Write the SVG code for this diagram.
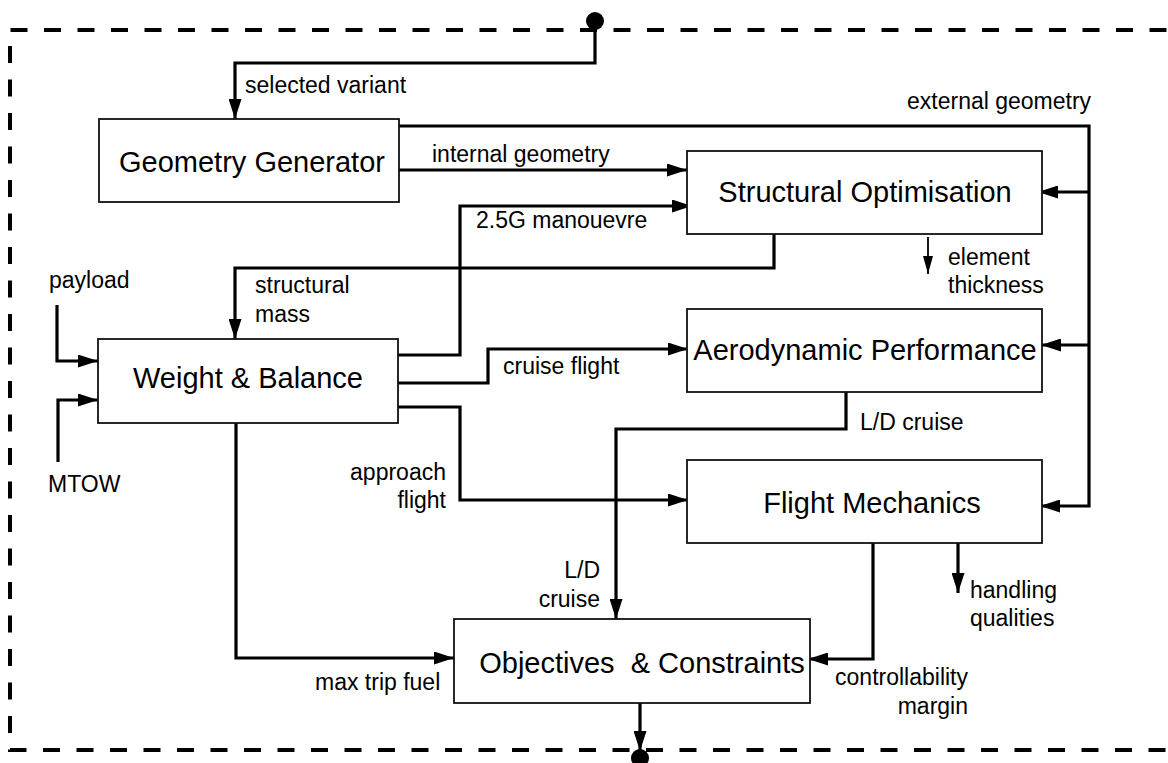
<svg xmlns="http://www.w3.org/2000/svg" width="1168" height="763" viewBox="0 0 1168 763">
<defs>
<style>
.box{fill:#fff;stroke:#111;stroke-width:1.8}
.nt{font-family:"Liberation Sans",Arial,sans-serif;font-size:29px;fill:#000}
.lb{font-family:"Liberation Sans",Arial,sans-serif;font-size:23px;fill:#000}
.c{fill:none;stroke:#000;stroke-width:3.2;stroke-linejoin:miter}
.ct{fill:none;stroke:#000;stroke-width:1.8}
.a{marker-end:url(#ah)}
.at{marker-end:url(#ahs)}
.border{fill:none;stroke:#000;stroke-width:4;stroke-dasharray:17 16.5}
</style>
<marker id="ah" markerUnits="userSpaceOnUse" markerWidth="20" markerHeight="13" refX="20" refY="6.5" orient="auto">
<path d="M0,0 L20,6.5 L0,13 z" fill="#000"/>
</marker>
<marker id="ahs" markerUnits="userSpaceOnUse" markerWidth="18" markerHeight="10" refX="18" refY="5" orient="auto">
<path d="M0,0 L18,5 L0,10 z" fill="#000"/>
</marker>
</defs>
<rect width="1168" height="763" fill="#fff"/>
<path class="border" d="M1200,30 H10 V750 H1200"/>

<g id="connectors">
<path class="c a" d="M595,21 V63 H235 V119"/>
<path class="c a" d="M397,126 H1089 V506 H1040"/>
<path class="c a" d="M1089,192 H1038"/>
<path class="c a" d="M1089,345 H1041"/>
<path class="c a" d="M399,170 H687"/>
<path class="c a" d="M398,355 H460 V206 H692"/>
<path class="c a" d="M774,234 V268 H235 V339"/>
<path class="ct at" d="M928,237 V274"/>
<path class="c a" d="M398,383 H488 V349 H688"/>
<path class="c a" d="M398,407 H460 V500 H688"/>
<path class="c a" d="M846,392 V429 H616 V619"/>
<path class="c a" d="M236,423 V658 H454"/>
<path class="c a" d="M873,543 V659 H808"/>
<path class="c a" d="M958,543 V593"/>
<path class="c a" d="M640,703 V751"/>
<path class="c a" d="M57,305 V361 H98"/>
<path class="c a" d="M58,462 V400 H98"/>
<circle cx="595" cy="21" r="9" fill="#000"/>
<circle cx="640" cy="758" r="9" fill="#000"/>
</g>

<g id="labels">
<text class="lb" x="245" y="93">selected variant</text>
<text class="lb" x="907" y="109">external geometry</text>
<text class="lb" x="432" y="162">internal geometry</text>
<text class="lb" x="476" y="228">2.5G manouevre</text>
<text class="lb" x="255" y="293">structural</text>
<text class="lb" x="255" y="322">mass</text>
<text class="lb" x="948" y="265">element</text>
<text class="lb" x="948" y="293">thickness</text>
<text class="lb" x="49" y="288">payload</text>
<text class="lb" x="48" y="492">MTOW</text>
<text class="lb" x="503" y="374">cruise flight</text>
<text class="lb" x="860" y="430">L/D cruise</text>
<text class="lb" x="446" y="480" text-anchor="end">approach</text>
<text class="lb" x="446" y="508" text-anchor="end">flight</text>
<text class="lb" x="600" y="578" text-anchor="end">L/D</text>
<text class="lb" x="600" y="607" text-anchor="end">cruise</text>
<text class="lb" x="970" y="598">handling</text>
<text class="lb" x="970" y="626">qualities</text>
<text class="lb" x="315" y="690">max trip fuel</text>
<text class="lb" x="968" y="685" text-anchor="end">controllability</text>
<text class="lb" x="968" y="714" text-anchor="end">margin</text>
</g>

<g id="geometry-generator">
<rect class="box" x="99" y="119" width="300" height="83"/>
<text class="nt" x="252" y="172" text-anchor="middle">Geometry Generator</text>
</g>
<g id="structural-optimisation">
<rect class="box" x="687" y="151" width="355" height="83"/>
<text class="nt" x="865" y="202" text-anchor="middle">Structural Optimisation</text>
</g>
<g id="weight-balance">
<rect class="box" x="98" y="339" width="300" height="84"/>
<text class="nt" x="248" y="388" text-anchor="middle">Weight &amp; Balance</text>
</g>
<g id="aerodynamic-performance">
<rect class="box" x="687" y="309" width="355" height="83"/>
<text class="nt" x="865" y="360" text-anchor="middle">Aerodynamic Performance</text>
</g>
<g id="flight-mechanics">
<rect class="box" x="687" y="460" width="355" height="83"/>
<text class="nt" x="872" y="513" text-anchor="middle">Flight Mechanics</text>
</g>
<g id="objectives-constraints">
<rect class="box" x="454" y="619" width="356" height="84"/>
<text class="nt" x="642" y="673" text-anchor="middle" xml:space="preserve">Objectives  &amp; Constraints</text>
</g>
</svg>
